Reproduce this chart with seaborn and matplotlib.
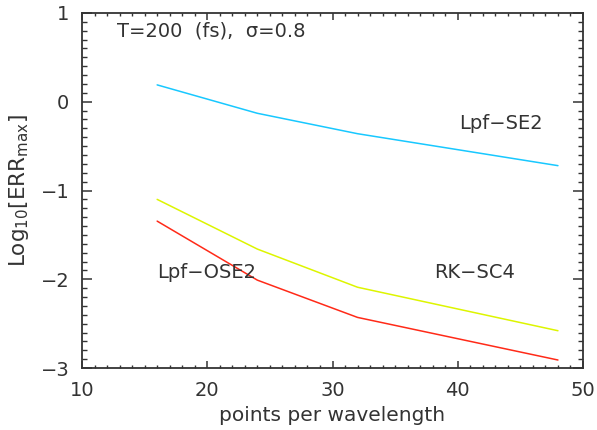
import matplotlib
matplotlib.use("Agg")
import matplotlib.pyplot as plt
import seaborn as sns
import pandas as pd
from matplotlib.ticker import MultipleLocator

# ---- data ----
ppw = [16, 24, 32, 48]
lpf_se2 = [0.19, -0.13, -0.36, -0.72]
rk_sc4 = [-1.10, -1.66, -2.09, -2.58]
lpf_ose2 = [-1.345, -2.01, -2.43, -2.91]
series_names = ["Lpf\u2212SE2", "RK\u2212SC4", "Lpf\u2212OSE2"]
x_ticks = [10, 20, 30, 40, 50]
y_ticks = [-3, -2, -1, 0, 1]

sns.set_theme(style="white")
plt.rcParams["font.family"] = ["DejaVu Sans"]
plt.rcParams["mathtext.fontset"] = "dejavusans"

TXT = "#333333"
FS = 14
fig = plt.figure(figsize=(5.97, 4.30), dpi=100)
ax = fig.add_axes([82 / 597, 1 - 368 / 430, (583 - 82) / 597, (368 - 13) / 430])

colors = {"Lpf\u2212SE2": "#18c8ff", "RK\u2212SC4": "#ddf500", "Lpf\u2212OSE2": "#ff2a18"}
df = pd.DataFrame({
    "ppw": ppw * 3,
    "err": lpf_se2 + rk_sc4 + lpf_ose2,
    "method": [series_names[0]] * 4 + [series_names[1]] * 4 + [series_names[2]] * 4,
})
sns.lineplot(data=df, x="ppw", y="err", hue="method", palette=colors,
             linewidth=1.1, legend=False, ax=ax)

ax.set_xlim(10, 50)
ax.set_ylim(-3, 1)
ax.set_xticks(x_ticks)
ax.set_yticks(y_ticks)
ax.set_xticklabels([str(v) for v in x_ticks])
ax.set_yticklabels([str(v).replace("-", "\u2212") for v in y_ticks])
ax.xaxis.set_minor_locator(MultipleLocator(1))
ax.yaxis.set_minor_locator(MultipleLocator(0.1))

ax.tick_params(axis="x", which="major", direction="in", length=5, width=1.1,
               color=TXT, top=True, bottom=True, labelsize=FS, labelcolor=TXT, pad=9)
ax.tick_params(axis="x", which="minor", direction="in", length=2.5, width=1.0,
               color=TXT, top=True, bottom=True)
ax.tick_params(axis="y", which="major", direction="in", length=7, width=1.1,
               color=TXT, left=True, right=True, labelsize=FS, labelcolor=TXT, pad=9)
ax.tick_params(axis="y", which="minor", direction="in", length=3.5, width=1.0,
               color=TXT, left=True, right=True)
for s in ax.spines.values():
    s.set_color(TXT)
    s.set_linewidth(1.3)

ax.set_xlabel("points per wavelength", fontsize=14.5, color=TXT, labelpad=5)
ax.set_ylabel(r"Log$_{10}$[ERR$_{\rm max}$]", fontsize=15.5, color=TXT, labelpad=7)

ax.text(12.8, 0.80, "T=200  (fs),  \u03c3=0.8", fontsize=FS, color=TXT, va="center")
ax.text(40.1, -0.24, series_names[0], fontsize=FS, color=TXT, va="center")
ax.text(38.15, -1.92, series_names[1], fontsize=FS, color=TXT, va="center")
ax.text(16.0, -1.92, series_names[2], fontsize=FS, color=TXT, va="center")

fig.savefig("out.png", dpi=100)
